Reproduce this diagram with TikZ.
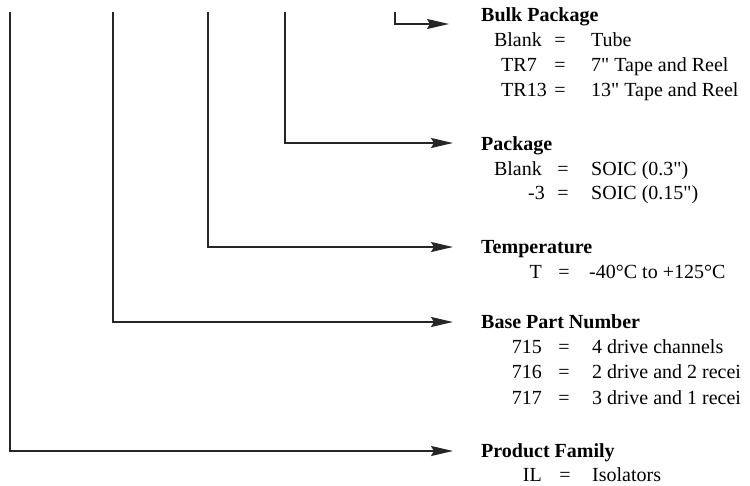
\documentclass[tikz,border=0pt]{standalone}
\usepackage{fontspec}
\setmainfont{Liberation Serif}[Ligatures=TeXOff]
\usetikzlibrary{arrows.meta}
\begin{document}
\begin{tikzpicture}[x=1pt,y=-1pt,
  lead/.style={line width=1.8pt, draw=black!85, line cap=butt, line join=miter},
  arr/.style={lead,-{Stealth[length=22pt,width=10pt,inset=3pt]}},
  head/.style={font=\fontsize{20}{24}\selectfont\bfseries, anchor=base west, inner sep=0pt},
  txt/.style={font=\fontsize{20}{24}\selectfont, inner sep=0pt},
  code/.style={txt,anchor=base east},
  eq/.style={txt,anchor=base},
  val/.style={txt,anchor=base west}]
\useasboundingbox (0,0) rectangle (750,486);
% tops of the leads
\coordinate (tA) at (10,12);
\coordinate (tB) at (113,12);
\coordinate (tC) at (208,12);
\coordinate (tD) at (285,12);
\coordinate (tE) at (395,12);
% arrow tips
\coordinate (pA) at (453,451);
\coordinate (pB) at (453,322);
\coordinate (pC) at (453,247);
\coordinate (pD) at (453,143);
\coordinate (pE) at (449,24);
% connectors
\draw[arr] (tA) |- (pA);
\draw[arr] (tB) |- (pB);
\draw[arr] (tC) |- (pC);
\draw[arr] (tD) |- (pD);
\draw[arr] (tE) |- (pE);
% Bulk Package
\node[head] (hBulk) at (481,22) {Bulk Package};
\node[code] (c1) at (542,47) {Blank}; \node[eq] (e1) at (560,47) {=}; \node[val] (v1) at (591,47) {Tube};
\node[code] (c2) at (537,72) {TR7};   \node[eq] (e2) at (560,72) {=}; \node[val] (v2) at (591,72) {7" Tape and Reel};
\node[code] (c3) at (547,97) {TR13};  \node[eq] (e3) at (560,97) {=}; \node[val] (v3) at (591,97) {13" Tape and Reel};
% Package
\node[head] (hPkg) at (481,151) {Package};
\node[code] (c4) at (542,176) {Blank}; \node[eq] (e4) at (563,176) {=}; \node[val] (v4) at (591,176) {SOIC (0.3")};
\node[code] (c5) at (545,200) {-3};    \node[eq] (e5) at (563,200) {=}; \node[val] (v5) at (591,200) {SOIC (0.15")};
% Temperature
\node[head] (hTemp) at (481,254) {Temperature};
\node[code] (c6) at (542,279) {T}; \node[eq] (e6) at (564,279) {=}; \node[val] (v6) at (589,279) {-40°C to +125°C};
% Base Part Number
\node[head] (hBase) at (481,329) {Base Part Number};
\node[code] (c7) at (542,354) {715}; \node[eq] (e7) at (564,354) {=}; \node[val] (v7) at (592,354) {4 drive channels};
\node[code] (c8) at (542,379) {716}; \node[eq] (e8) at (564,379) {=}; \node[val] (v8) at (592,379) {2 drive and 2 recei};
\node[code] (c9) at (542,404) {717}; \node[eq] (e9) at (564,404) {=}; \node[val] (v9) at (592,404) {3 drive and 1 recei};
% Product Family
\node[head] (hProd) at (481,457) {Product Family};
\node[code] (c10) at (542,481) {IL}; \node[eq] (e10) at (565,481) {=}; \node[val] (v10) at (592,481) {Isolators};
\end{tikzpicture}
\end{document}
